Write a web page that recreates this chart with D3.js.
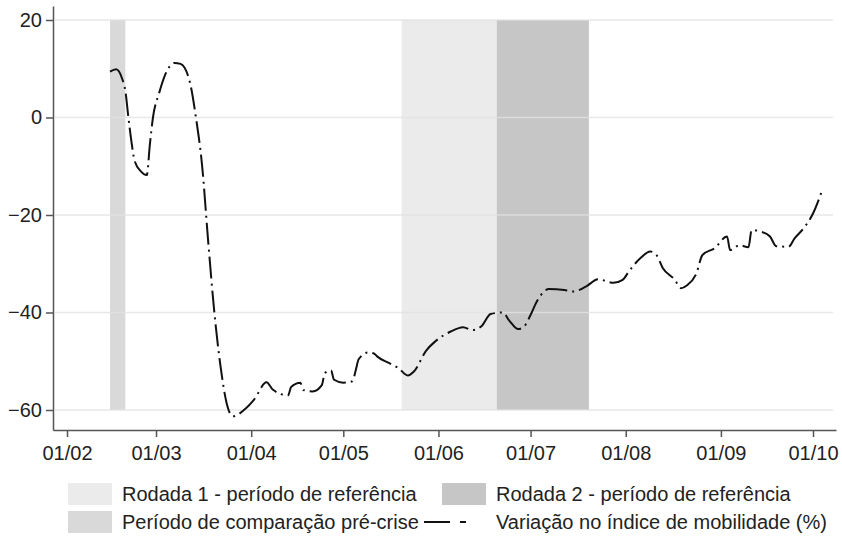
<!DOCTYPE html>
<html>
<head>
<meta charset="utf-8">
<script src="https://cdn.jsdelivr.net/npm/d3@7"></script>
<style>
  body { margin: 0; background: #fff; }
  svg { font-family: "Liberation Sans", Arial, sans-serif; }
</style>
</head>
<body>
<div id="chart"></div>
<script>
// Variação no índice de mobilidade (%)
const dates = [
  "2020-02-15","2020-02-17","2020-02-19","2020-02-20","2020-02-21","2020-02-22","2020-02-23","2020-02-25","2020-02-27","2020-02-28",
  "2020-02-29","2020-03-02","2020-03-04","2020-03-07","2020-03-09","2020-03-12","2020-03-14","2020-03-16","2020-03-18","2020-03-20",
  "2020-03-22","2020-03-24","2020-03-26","2020-03-30","2020-04-02","2020-04-06","2020-04-08","2020-04-13","2020-04-14","2020-04-17",
  "2020-04-18","2020-04-21","2020-04-24","2020-04-25","2020-04-27","2020-04-28","2020-05-01","2020-05-04","2020-05-05","2020-05-06",
  "2020-05-09","2020-05-11","2020-05-12","2020-05-16","2020-05-19","2020-05-22","2020-05-24","2020-05-28","2020-05-31","2020-06-05",
  "2020-06-09","2020-06-12","2020-06-15","2020-06-18","2020-06-22","2020-06-24","2020-06-27","2020-06-29","2020-07-01","2020-07-03",
  "2020-07-07","2020-07-12","2020-07-15","2020-07-19","2020-07-23","2020-07-28","2020-07-31","2020-08-02","2020-08-06","2020-08-09",
  "2020-08-11","2020-08-13","2020-08-17","2020-08-19","2020-08-21","2020-08-24","2020-08-26","2020-08-30","2020-09-03","2020-09-04",
  "2020-09-07","2020-09-10","2020-09-11","2020-09-14","2020-09-17","2020-09-19","2020-09-23","2020-09-25","2020-09-28","2020-10-01",
  "2020-10-04"
];
const values = [
  9.4, 9.9, 7.9, 5.5, 0.0, -5.0, -8.8, -11.0, -11.8, -5.5,
  0.0, 5.0, 8.8, 11.2, 11.0, 7.3, 0.0, -9.8, -25.5, -40.0,
  -51.0, -58.6, -61.3, -59.8, -57.8, -54.3, -55.8, -57.0, -55.3, -54.4,
  -55.9, -56.2, -54.9, -52.4, -51.9, -53.8, -54.4, -54.1, -52.0, -49.6,
  -48.2, -48.4, -49.0, -50.4, -51.4, -52.9, -52.1, -47.8, -45.9, -43.9,
  -43.0, -43.6, -42.8, -40.3, -40.0, -41.6, -43.4, -42.8, -40.5, -37.8,
  -35.2, -35.4, -35.7, -34.7, -33.2, -33.9, -33.3, -31.6, -28.7, -27.5,
  -28.2, -30.8, -33.3, -35.0, -34.4, -32.0, -28.2, -26.8, -24.4, -27.2,
  -26.2, -26.6, -23.1, -23.4, -24.4, -26.4, -26.5, -24.8, -22.7, -19.7,
  -14.9
];

// shaded periods
const bandNames  = ["Rodada 1 - período de referência", "Rodada 2 - período de referência", "Período de comparação pré-crise"];
const bandStarts = ["2020-05-20", "2020-06-20", "2020-02-15"];
const bandEnds   = ["2020-06-20", "2020-07-20", "2020-02-20"];
const bandTop = 20, bandBottom = -60;
const lineName = "Variação no índice de mobilidade (%)";

const xTickDates = ["2020-02-01","2020-03-01","2020-04-01","2020-05-01","2020-06-01","2020-07-01","2020-08-01","2020-09-01","2020-10-01"];
const yTicks = [-60, -40, -20, 0, 20];

const W = 842, H = 540;
const bandColors = ["#ebebeb", "#c6c6c6", "#d9d9d9"];

const parse = d3.timeParse("%Y-%m-%d");
const data = dates.map((d, i) => ({date: parse(d), value: values[i]}));

const svg = d3.select("#chart").append("svg")
    .attr("width", W)
    .attr("height", H);

// x: first of Feb at 67px, first of Oct at 813px, axis runs 53..836
const x0 = d3.scaleTime()
  .domain([parse(xTickDates[0]), parse(xTickDates[xTickDates.length - 1])])
  .range([67, 813]);
const x = x0.copy().domain([x0.invert(53), x0.invert(836)]).range([53, 836]);

const y0 = d3.scaleLinear().domain([-60, 20]).range([410, 20]);
const y = y0.copy().domain([y0.invert(430), y0.invert(6)]).range([430, 6]);

// bands
svg.append("g")
  .selectAll("rect")
  .data(bandNames)
  .join("rect")
    .attr("x", (d, i) => x(parse(bandStarts[i])))
    .attr("width", (d, i) => x(parse(bandEnds[i])) - x(parse(bandStarts[i])))
    .attr("y", y(bandTop))
    .attr("height", y(bandBottom) - y(bandTop))
    .attr("fill", (d, i) => bandColors[i]);

// gridlines
svg.append("g")
  .selectAll("line")
  .data(yTicks)
  .join("line")
    .attr("x1", 55).attr("x2", 833)
    .attr("y1", d => y(d)).attr("y2", d => y(d))
    .attr("stroke", "#e2e2e2")
    .attr("stroke-opacity", 0.8)
    .attr("stroke-width", 1.5);

// axes
const yAxis = svg.append("g")
  .attr("transform", "translate(53,0)")
  .call(d3.axisLeft(y).tickValues(yTicks).tickSize(7).tickSizeOuter(0).tickPadding(4));

const xAxis = svg.append("g")
  .attr("transform", "translate(0,430)")
  .call(d3.axisBottom(x)
    .tickValues(xTickDates.map(parse))
    .tickFormat(d3.timeFormat("%d/%m"))
    .tickSize(7).tickSizeOuter(0).tickPadding(9));

[yAxis, xAxis].forEach(g => {
  g.select(".domain").attr("stroke", "#555").attr("stroke-width", 1.5);
  g.selectAll(".tick line").attr("stroke", "#555").attr("stroke-width", 1.5);
  g.selectAll(".tick text").attr("fill", "#222").style("font-size", "20px");
});

// mobility line
const dash = "22,5,2,5";
svg.append("path")
  .datum(data)
  .attr("fill", "none")
  .attr("stroke", "#111")
  .attr("stroke-width", 2)
  .attr("stroke-dasharray", dash)
  .attr("d", d3.line()
    .x(d => x(d.date))
    .y(d => y(d.value))
    .curve(d3.curveMonotoneX));

// legend
const legend = svg.append("g").style("font-size", "20px").attr("fill", "#222");
const legendItems = [
  {name: bandNames[0], color: bandColors[0], col: 0, row: 0},
  {name: bandNames[1], color: bandColors[1], col: 1, row: 0},
  {name: bandNames[2], color: bandColors[2], col: 0, row: 1},
  {name: lineName, color: null, col: 1, row: 1}
];
const colX = [68, 442], rowY = [494, 522];

legendItems.forEach(it => {
  const lx = colX[it.col], ly = rowY[it.row];
  if (it.color) {
    legend.append("rect")
      .attr("x", lx).attr("y", ly - 11)
      .attr("width", 44).attr("height", 22)
      .attr("fill", it.color);
  } else {
    legend.append("line")
      .attr("x1", lx - 18).attr("x2", lx + 30)
      .attr("y1", ly).attr("y2", ly)
      .attr("stroke", "#111").attr("stroke-width", 2)
      .attr("stroke-dasharray", "26,10,6,40");
  }
  legend.append("text")
    .attr("x", lx + 54).attr("y", ly)
    .attr("dy", "0.35em")
    .text(it.name);
});
</script>
</body>
</html>
